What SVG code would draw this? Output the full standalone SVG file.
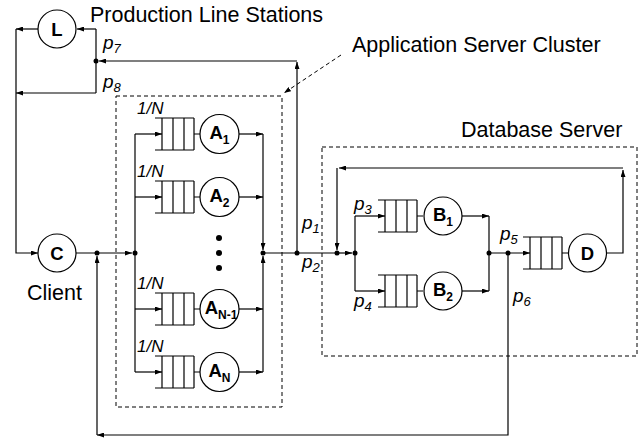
<svg xmlns="http://www.w3.org/2000/svg" width="641" height="438" viewBox="0 0 641 438">
<style>
  .ln{fill:none;stroke:#000;stroke-width:1.2}
  .ar{fill:none;stroke:#000;stroke-width:1.2;marker-end:url(#ah)}
  .box{fill:none;stroke:#000;stroke-width:1;stroke-dasharray:4 3}
  .nd{fill:#fff;stroke:#000;stroke-width:1.2}
  .q{fill:none;stroke:#000;stroke-width:1.2}
  .dot{fill:#000}
  .nl{font-family:"Liberation Sans",Arial,sans-serif;font-weight:bold;font-size:18.5px;fill:#000}
  .sub{font-size:12px}
  .lbl{font-family:"Liberation Sans",Arial,sans-serif;font-size:21.5px;fill:#000}
  .pl{font-family:"Liberation Sans",Arial,sans-serif;font-style:italic;font-size:19px;fill:#000}
  .ps{font-size:13px}
  .fr{font-family:"Liberation Sans",Arial,sans-serif;font-style:italic;font-size:17px;fill:#000}
</style>
<defs>
  <marker id="ah" markerUnits="userSpaceOnUse" markerWidth="7" markerHeight="5" refX="7" refY="2.5" orient="auto">
    <path d="M0,0 L7,2.5 L0,5 z" fill="#000"/>
  </marker>
  <path id="queue" class="q" d="M0,-16 H39 M0,16 H39 M7,-16 V16 M18,-16 V16 M29,-16 V16 M39,-16 V16 M39,0 H45"/>
</defs>

<!-- texts -->
<g id="labels">
  <text class="lbl" x="90" y="22">Production Line Stations</text>
  <text class="lbl" x="352" y="52">Application Server Cluster</text>
  <text class="lbl" x="461" y="137">Database Server</text>
  <text class="lbl" x="27" y="300">Client</text>
</g>

<!-- boxes -->
<g id="app-cluster">
  <rect class="box" x="116" y="96" width="166" height="311"/>
</g>
<g id="db-server">
  <rect class="box" x="322" y="147" width="315" height="209"/>
</g>

<!-- connectors -->
<g id="connectors">
  <path class="box" d="M341,55 L284,93" marker-end="url(#ah)"/>
  <path class="ar" d="M38,29 H16"/>
  <path class="ar" d="M96,93 H16"/>
  <path class="ar" d="M16,29 V253 H38"/>
  <path class="ar" d="M96,29 H77"/>
  <path class="ln" d="M96,29 V93"/>
  <path class="ar" d="M297,253 V62"/>
  <path class="ar" d="M297,61 H99"/>
  <path class="ar" d="M76,253 H132"/>
  <path class="ar" d="M97,435 V256"/>
  <path class="ar" d="M508,253 V435 H97"/>
  <path class="ln" d="M135,134 V372"/>
  <path class="ar" d="M135,134 H162"/>
  <path class="ar" d="M135,197 H162"/>
  <path class="ar" d="M135,309 H162"/>
  <path class="ar" d="M135,372 H162"/>
  <path class="ar" d="M239,134 H263"/>
  <path class="ar" d="M239,197 H263"/>
  <path class="ar" d="M239,309 H263"/>
  <path class="ar" d="M239,372 H263"/>
  <path class="ar" d="M263,134 V250"/>
  <path class="ar" d="M263,372 V256"/>
  <path class="ln" d="M263,253 H337"/>
  <path class="ar" d="M337,253 H352"/>
  <path class="ar" d="M606,253 H623 V170"/>
  <path class="ar" d="M623,168 H339"/>
  <path class="ar" d="M337,168 V250"/>
  <path class="ln" d="M355,216 V291"/>
  <path class="ar" d="M355,216 H385"/>
  <path class="ar" d="M355,291 H385"/>
  <path class="ar" d="M462,216 H489"/>
  <path class="ar" d="M462,291 H489"/>
  <path class="ln" d="M489,216 V291"/>
  <path class="ar" d="M489,253 H530"/>
  <circle class="dot" cx="96" cy="61" r="2.5"/>
  <circle class="dot" cx="97" cy="253" r="2.5"/>
  <circle class="dot" cx="135" cy="253" r="2.5"/>
  <circle class="dot" cx="263" cy="253" r="2.5"/>
  <circle class="dot" cx="297" cy="253" r="2.5"/>
  <circle class="dot" cx="337" cy="253" r="2.5"/>
  <circle class="dot" cx="355" cy="253" r="2.5"/>
  <circle class="dot" cx="489" cy="253" r="2.5"/>
  <circle class="dot" cx="508" cy="253" r="2.5"/>
  <circle class="dot" cx="219" cy="238" r="3"/>
  <circle class="dot" cx="219" cy="253" r="3"/>
  <circle class="dot" cx="219" cy="268" r="3"/>
</g>

<!-- probability labels -->
<g id="probs">
  <text class="pl" x="103" y="49">p<tspan class="ps" dy="4">7</tspan></text>
  <text class="pl" x="103" y="88">p<tspan class="ps" dy="4">8</tspan></text>
  <text class="pl" x="302" y="229">p<tspan class="ps" dy="4">1</tspan></text>
  <text class="pl" x="302" y="268">p<tspan class="ps" dy="4">2</tspan></text>
  <text class="pl" x="354" y="210">p<tspan class="ps" dy="4">3</tspan></text>
  <text class="pl" x="354" y="307">p<tspan class="ps" dy="4">4</tspan></text>
  <text class="pl" x="500" y="240">p<tspan class="ps" dy="4">5</tspan></text>
  <text class="pl" x="513" y="302">p<tspan class="ps" dy="4">6</tspan></text>
  <text class="fr" x="137" y="114">1/N</text>
  <text class="fr" x="137" y="177">1/N</text>
  <text class="fr" x="137" y="289">1/N</text>
  <text class="fr" x="137" y="352">1/N</text>
</g>

<g id="node-L">
  <circle class="nd" cx="57" cy="29" r="19"/>
  <text class="nl" x="57" y="36" text-anchor="middle">L</text>
</g>
<g id="node-C">
  <circle class="nd" cx="57" cy="253" r="19"/>
  <text class="nl" x="57" y="260" text-anchor="middle">C</text>
</g>
<g id="node-A1">
  <use href="#queue" x="155" y="134"/>
  <circle class="nd" cx="219.5" cy="134" r="19.5"/>
  <text class="nl" x="219.5" y="139" text-anchor="middle">A<tspan class="sub" dy="5">1</tspan></text>
</g>
<g id="node-A2">
  <use href="#queue" x="155" y="197"/>
  <circle class="nd" cx="219.5" cy="197" r="19.5"/>
  <text class="nl" x="219.5" y="202" text-anchor="middle">A<tspan class="sub" dy="5">2</tspan></text>
</g>
<g id="node-AN-1">
  <use href="#queue" x="155" y="309"/>
  <circle class="nd" cx="219.5" cy="309" r="19.5"/>
  <text class="nl" x="221" y="314" text-anchor="middle">A<tspan class="sub" dy="5">N-1</tspan></text>
</g>
<g id="node-AN">
  <use href="#queue" x="155" y="372"/>
  <circle class="nd" cx="219.5" cy="372" r="19.5"/>
  <text class="nl" x="219.5" y="377" text-anchor="middle">A<tspan class="sub" dy="5">N</tspan></text>
</g>
<g id="node-B1">
  <use href="#queue" x="378" y="216"/>
  <circle class="nd" cx="443" cy="216" r="19"/>
  <text class="nl" x="443" y="221" text-anchor="middle">B<tspan class="sub" dy="5">1</tspan></text>
</g>
<g id="node-B2">
  <use href="#queue" x="378" y="291"/>
  <circle class="nd" cx="443" cy="291" r="19"/>
  <text class="nl" x="443" y="296" text-anchor="middle">B<tspan class="sub" dy="5">2</tspan></text>
</g>
<g id="node-D">
  <use href="#queue" x="523" y="253"/>
  <circle class="nd" cx="587.5" cy="253" r="19"/>
  <text class="nl" x="587.5" y="260" text-anchor="middle">D</text>
</g>
</svg>
